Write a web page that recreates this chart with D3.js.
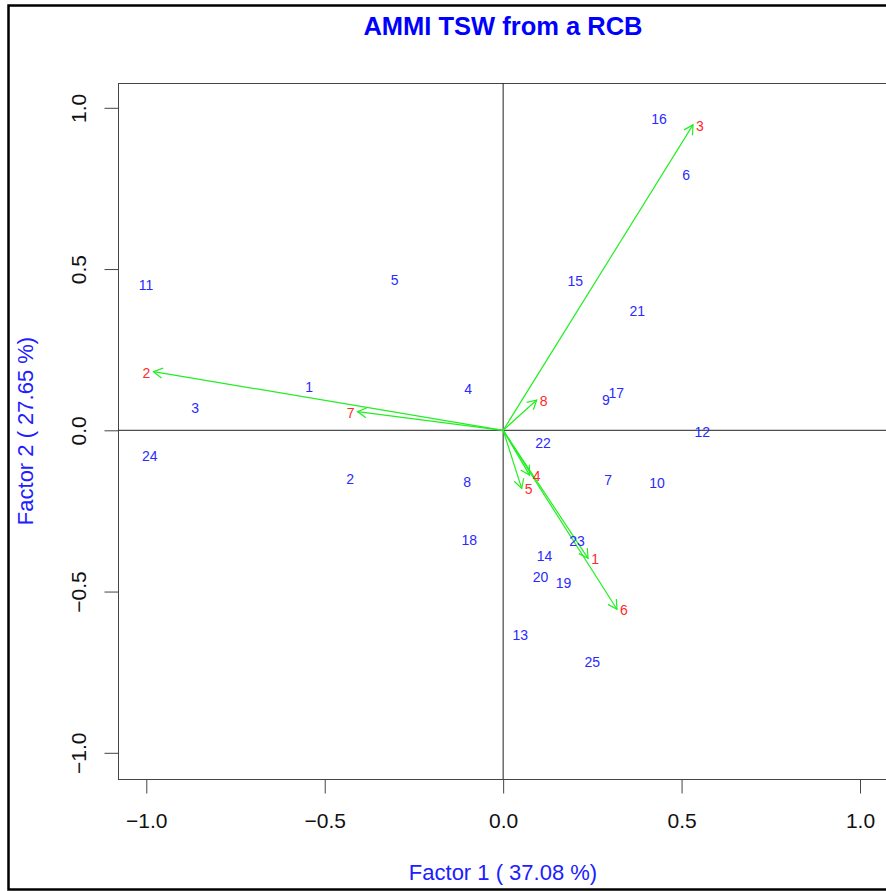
<!DOCTYPE html>
<html>
<head>
<meta charset="utf-8">
<script src="https://cdn.jsdelivr.net/npm/d3@7"></script>
<style>
  body { margin: 0; background: #fff; }
  text { font-family: "Liberation Sans", Arial, sans-serif; }
</style>
</head>
<body>
<svg id="chart" width="886" height="891"></svg>
<script>
// Genotype scores (blue labels)
const genoNames = ["1","2","3","4","5","6","7","8","9","10","11","12","13",
                   "14","15","16","17","18","19","20","21","22","23","24","25"];
const genoF1 = [-0.544, -0.429, -0.863, -0.098, -0.304, 0.513, 0.294, -0.101, 0.288, 0.431, -1.001, 0.558, 0.048,
                0.116, 0.202, 0.437, 0.317, -0.095, 0.169, 0.105, 0.376, 0.112, 0.207, -0.990, 0.250];
const genoF2 = [0.134, -0.150, 0.069, 0.127, 0.466, 0.792, -0.154, -0.160, 0.093, -0.162, 0.452, -0.005, -0.635,
                -0.390, 0.463, 0.965, 0.115, -0.340, -0.472, -0.455, 0.370, -0.039, -0.344, -0.079, -0.719];

// Environment scores (red labels, green arrows)
const envNames = ["1","2","3","4","5","6","7","8"];
const envF1 = [0.238, -0.980, 0.532, 0.074, 0.052, 0.319, -0.408, 0.094];
const envF2 = [-0.397, 0.182, 0.947, -0.139, -0.180, -0.555, 0.058, 0.094];

const ticks = [-1.0, -0.5, 0.0, 0.5, 1.0];
const title = "AMMI TSW from a RCB";
const xTitle = "Factor 1 ( 37.08 %)";
const yTitle = "Factor 2 ( 27.65 %)";

const svg = d3.select("#chart");

// outer frame of the figure
svg.append("rect")
    .attr("x", 8.5).attr("y", 5.5)
    .attr("width", 900).attr("height", 884)
    .attr("fill", "none").attr("stroke", "#000").attr("stroke-width", 2.5);

// plot region
const box = {left: 118, top: 83, right: 905, bottom: 779};

let x = d3.scaleLinear().domain([-1, 1]).range([146.3, 860]);
let y = d3.scaleLinear().domain([-1, 1]).range([752.8, 107.8]);

svg.append("rect")
    .attr("x", box.left + 0.5).attr("y", box.top + 0.5)
    .attr("width", box.right - box.left).attr("height", box.bottom - box.top)
    .attr("fill", "none").attr("stroke", "#444").attr("stroke-width", 1);

// reference lines at 0
svg.append("line")
    .attr("x1", box.left).attr("x2", box.right)
    .attr("y1", y(0)).attr("y2", y(0))
    .attr("stroke", "#222").attr("stroke-width", 1);
svg.append("line")
    .attr("x1", x(0)).attr("x2", x(0))
    .attr("y1", box.top).attr("y2", box.bottom)
    .attr("stroke", "#222").attr("stroke-width", 1);

// axes
const xAxis = svg.append("g")
    .attr("transform", "translate(0," + (box.bottom + 0.5) + ")")
    .call(d3.axisBottom(x).tickValues(ticks).tickSize(14).tickPadding(20)
        .tickFormat(d3.format(".1f")));
xAxis.select(".domain").remove();
xAxis.selectAll("line").attr("stroke", "#444");
xAxis.selectAll("text")
    .attr("font-size", "21px").attr("fill", "#111")
    .attr("font-family", "Liberation Sans, Arial, sans-serif")
    .text(d => d3.format(".1f")(d).replace("-", "\u2212"));

const yAxis = svg.append("g")
    .attr("transform", "translate(" + (box.left + 0.5) + ",0)")
    .call(d3.axisLeft(y).tickValues(ticks).tickSize(14)
        .tickFormat(d3.format(".1f")));
yAxis.select(".domain").remove();
yAxis.selectAll("line").attr("stroke", "#444");
yAxis.selectAll("text")
    .attr("x", 0).attr("dy", 0)
    .attr("transform", "translate(-32.5,0) rotate(-90)")
    .attr("text-anchor", "middle")
    .attr("font-size", "21px").attr("fill", "#111")
    .attr("font-family", "Liberation Sans, Arial, sans-serif")
    .text(d => d3.format(".1f")(d).replace("-", "\u2212"));

// titles
svg.append("text")
    .attr("x", 503).attr("y", 35)
    .attr("text-anchor", "middle")
    .attr("font-size", "25.5px").attr("font-weight", "bold")
    .attr("fill", "#0000ff")
    .text(title);

svg.append("text")
    .attr("x", 503).attr("y", 880)
    .attr("text-anchor", "middle")
    .attr("font-size", "22px")
    .attr("fill", "#2020ff")
    .text(xTitle);

svg.append("text")
    .attr("transform", "translate(33,431) rotate(-90)")
    .attr("text-anchor", "middle")
    .attr("font-size", "22px")
    .attr("fill", "#2020ff")
    .text(yTitle);

// arrowhead marker (open V like R's arrows())
svg.append("defs").append("marker")
    .attr("id", "head")
    .attr("viewBox", "-10 -6 12 12")
    .attr("refX", 0).attr("refY", 0)
    .attr("markerWidth", 12).attr("markerHeight", 12)
    .attr("markerUnits", "userSpaceOnUse")
    .attr("orient", "auto")
    .append("path")
    .attr("d", "M-9,-5 L0,0 L-9,5")
    .attr("fill", "none")
    .attr("stroke", "#22ee22")
    .attr("stroke-width", 1.2);

// environment arrows
svg.selectAll(".env-arrow")
    .data(envNames)
    .enter().append("line")
    .attr("class", "env-arrow")
    .attr("x1", x(0)).attr("y1", y(0))
    .attr("x2", (d, i) => x(envF1[i]))
    .attr("y2", (d, i) => y(envF2[i]))
    .attr("stroke", "#22ee22")
    .attr("stroke-width", 1.2)
    .attr("marker-end", "url(#head)");

// genotype labels
svg.selectAll(".geno")
    .data(genoNames)
    .enter().append("text")
    .attr("class", "geno")
    .attr("x", (d, i) => x(genoF1[i]))
    .attr("y", (d, i) => y(genoF2[i]))
    .attr("dy", "0.36em")
    .attr("text-anchor", "middle")
    .attr("font-size", "14px")
    .attr("fill", "#2a2aff")
    .text(d => d);

// environment labels, just beyond the arrow tip
svg.selectAll(".env")
    .data(envNames)
    .enter().append("text")
    .attr("class", "env")
    .attr("x", (d, i) => x(envF1[i]) + (envF1[i] < 0 ? -7 : 7))
    .attr("y", (d, i) => y(envF2[i]) + 1)
    .attr("dy", "0.36em")
    .attr("text-anchor", "middle")
    .attr("font-size", "14px")
    .attr("fill", "#ff2a2a")
    .text(d => d);
</script>
</body>
</html>
